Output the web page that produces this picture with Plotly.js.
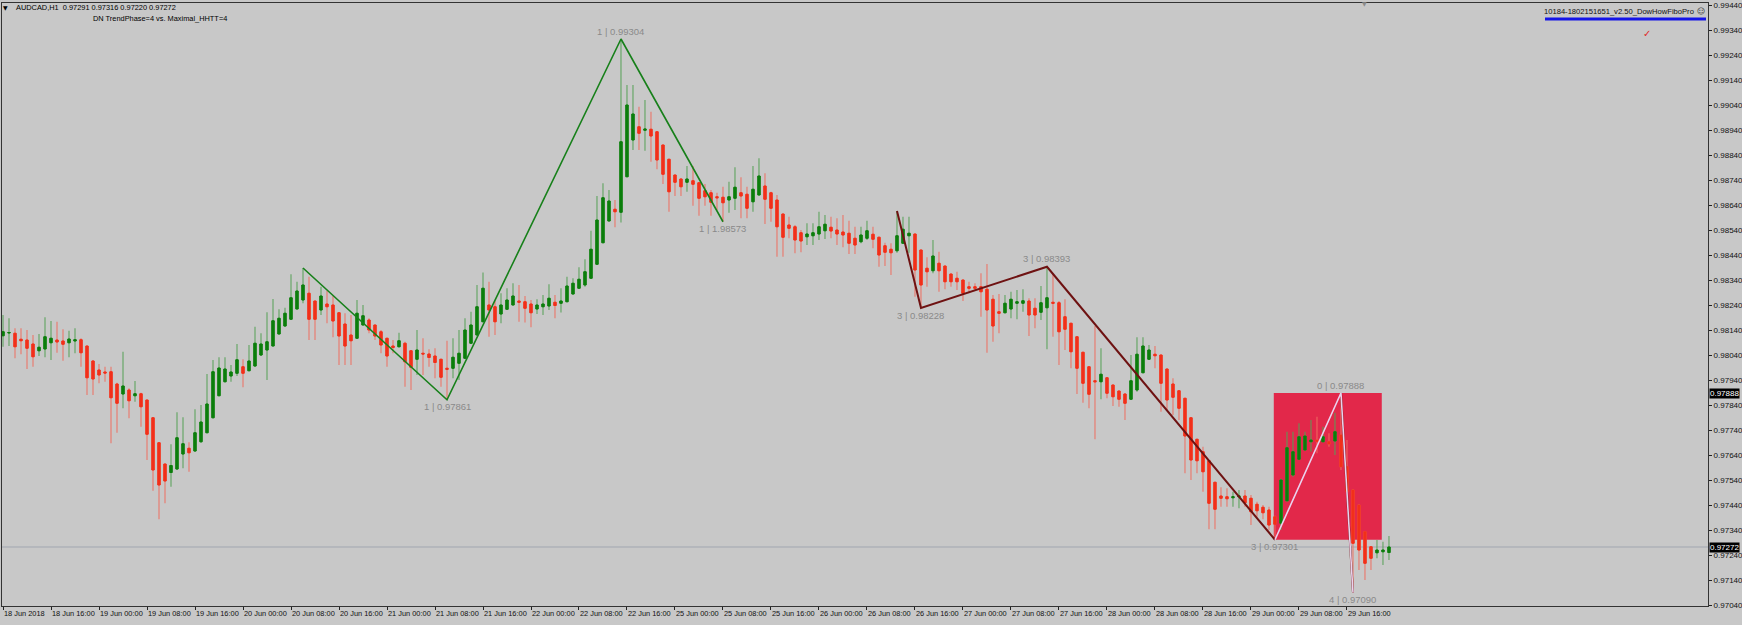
<!DOCTYPE html>
<html><head><meta charset="utf-8">
<script src="https://cdn.plot.ly/plotly-3.0.1.min.js"></script>
<style>html,body{margin:0;padding:0;background:#C8C8C8;}#chart{width:1742px;height:625px;}</style>
</head><body><div id="chart"></div>
<script>
// AUDCAD H1 candles, bar 0 = first visible bar (18 Jun 2018)
const openP = [
0.98117,0.98128,0.98127,0.98103,0.98100,0.98084,0.98057,0.98064,0.98089,0.98100,
0.98096,0.98089,0.98096,0.98101,0.98076,0.98016,0.97980,0.97972,0.97973,0.97924,
0.97884,0.97900,0.97877,0.97885,0.97860,0.97789,0.97689,0.97604,0.97570,0.97584,
0.97644,0.97667,0.97656,0.97693,0.97729,0.97789,0.97877,0.97933,0.97956,0.97967,
0.97993,0.97977,0.97996,0.98040,0.98060,0.98076,0.98124,0.98156,0.98183,0.98224,
0.98260,0.98287,0.98256,0.98220,0.98244,0.98240,0.98209,0.98164,0.98120,0.98107,
0.98160,0.98180,0.98160,0.98133,0.98107,0.98076,0.98073,0.98087,0.98057,0.98023,
0.98047,0.98044,0.98036,0.98023,0.97987,0.97987,0.98007,0.98027,0.98087,0.98120,
0.98173,0.98240,0.98233,0.98204,0.98223,0.98240,0.98256,0.98253,0.98244,0.98224,
0.98233,0.98236,0.98251,0.98247,0.98253,0.98284,0.98307,0.98320,0.98347,0.98403,
0.98489,0.98576,0.98623,0.98611,0.98753,0.98900,0.98953,0.98939,0.98943,0.98933,
0.98880,0.98823,0.98760,0.98744,0.98731,0.98737,0.98729,0.98697,0.98689,0.98673,
0.98671,0.98660,0.98667,0.98689,0.98683,0.98653,0.98680,0.98716,0.98689,0.98660,
0.98604,0.98560,0.98553,0.98529,0.98513,0.98517,0.98524,0.98537,0.98551,0.98540,
0.98532,0.98527,0.98507,0.98493,0.98507,0.98523,0.98511,0.98477,0.98463,0.98457,
0.98487,0.98517,0.98524,0.98460,0.98387,0.98377,0.98407,0.98396,0.98364,0.98347,
0.98340,0.98313,0.98313,0.98313,0.98303,0.98263,0.98213,0.98209,0.98224,0.98247,
0.98247,0.98256,0.98227,0.98211,0.98229,0.98251,0.98249,0.98193,0.98167,0.98113,
0.98051,0.97993,0.97937,0.97933,0.97949,0.97920,0.97896,0.97884,0.97863,0.97900,
0.97969,0.98023,0.98043,0.98040,0.97984,0.97924,0.97897,0.97867,0.97789,0.97703,
0.97653,0.97617,0.97531,0.97476,0.97473,0.97469,0.97473,0.97476,0.97467,0.97443,
0.97431,0.97420,0.97393,0.97367,0.97457,0.97560,0.97623,0.97660,0.97693,0.97700,
0.97693,0.97693,0.97696,0.97720,0.97593,0.97500,0.97440,0.97333,0.97273,0.97249,
0.97253,0.97250];
const highP = [
0.98200,0.98187,0.98147,0.98147,0.98140,0.98120,0.98124,0.98191,0.98176,0.98173,
0.98143,0.98137,0.98147,0.98107,0.98076,0.98020,0.98004,0.97993,0.97993,0.97929,
0.98053,0.97907,0.97936,0.97889,0.97860,0.97789,0.97689,0.97604,0.97683,0.97811,
0.97791,0.97691,0.97823,0.97840,0.97964,0.98020,0.98031,0.98031,0.98000,0.98084,
0.98023,0.98080,0.98153,0.98127,0.98211,0.98264,0.98223,0.98229,0.98363,0.98333,
0.98388,0.98353,0.98256,0.98313,0.98297,0.98276,0.98209,0.98207,0.98200,0.98260,
0.98240,0.98187,0.98160,0.98140,0.98107,0.98100,0.98129,0.98093,0.98057,0.98140,
0.98107,0.98063,0.98067,0.98023,0.98097,0.98107,0.98140,0.98187,0.98213,0.98320,
0.98370,0.98333,0.98256,0.98287,0.98307,0.98327,0.98320,0.98276,0.98260,0.98263,
0.98280,0.98323,0.98280,0.98307,0.98353,0.98347,0.98391,0.98423,0.98537,0.98676,
0.98727,0.98700,0.98660,0.99304,0.99120,0.99120,0.99033,0.99060,0.99013,0.98933,
0.98880,0.98823,0.98760,0.98747,0.98796,0.98796,0.98729,0.98724,0.98700,0.98689,
0.98713,0.98733,0.98791,0.98751,0.98713,0.98796,0.98827,0.98767,0.98693,0.98680,
0.98604,0.98593,0.98560,0.98540,0.98567,0.98567,0.98613,0.98600,0.98593,0.98587,
0.98600,0.98577,0.98553,0.98553,0.98577,0.98553,0.98513,0.98489,0.98487,0.98616,
0.98593,0.98593,0.98524,0.98460,0.98431,0.98500,0.98453,0.98396,0.98364,0.98373,
0.98340,0.98333,0.98327,0.98367,0.98404,0.98280,0.98284,0.98280,0.98293,0.98300,
0.98303,0.98267,0.98267,0.98316,0.98393,0.98367,0.98256,0.98263,0.98167,0.98113,
0.98051,0.97993,0.98156,0.98067,0.97949,0.97920,0.97896,0.97887,0.98040,0.98111,
0.98111,0.98080,0.98076,0.98040,0.97984,0.97947,0.97897,0.97867,0.97789,0.97703,
0.97673,0.97617,0.97531,0.97511,0.97507,0.97493,0.97500,0.97500,0.97480,0.97453,
0.97440,0.97433,0.97397,0.97545,0.97733,0.97733,0.97767,0.97733,0.97780,0.97793,
0.97753,0.97727,0.97809,0.97888,0.97700,0.97500,0.97440,0.97333,0.97273,0.97300,
0.97293,0.97316];
const lowP = [
0.98073,0.98076,0.98027,0.98043,0.97984,0.97993,0.98036,0.98031,0.98020,0.98049,
0.98017,0.98031,0.98047,0.97993,0.97880,0.97880,0.97927,0.97933,0.97687,0.97729,
0.97827,0.97787,0.97853,0.97753,0.97620,0.97497,0.97383,0.97447,0.97513,0.97580,
0.97587,0.97573,0.97653,0.97689,0.97729,0.97787,0.97877,0.97931,0.97933,0.97956,
0.97911,0.97977,0.97993,0.98036,0.97940,0.98076,0.98124,0.98153,0.98183,0.98224,
0.98247,0.98100,0.98100,0.98200,0.98167,0.98111,0.98000,0.98000,0.98000,0.98107,
0.98160,0.98127,0.98100,0.98047,0.97993,0.98047,0.98071,0.97913,0.97900,0.97960,
0.97960,0.97993,0.97947,0.97913,0.97861,0.97947,0.97940,0.98027,0.98087,0.98120,
0.98173,0.98113,0.98120,0.98167,0.98220,0.98240,0.98173,0.98170,0.98151,0.98204,
0.98200,0.98220,0.98187,0.98210,0.98253,0.98283,0.98307,0.98313,0.98347,0.98403,
0.98489,0.98576,0.98551,0.98570,0.98753,0.98860,0.98860,0.98857,0.98813,0.98783,
0.98724,0.98613,0.98676,0.98676,0.98693,0.98637,0.98597,0.98637,0.98597,0.98620,
0.98573,0.98609,0.98620,0.98587,0.98587,0.98613,0.98680,0.98564,0.98573,0.98433,
0.98433,0.98507,0.98447,0.98451,0.98480,0.98480,0.98500,0.98504,0.98507,0.98480,
0.98471,0.98444,0.98444,0.98487,0.98500,0.98467,0.98393,0.98396,0.98360,0.98449,
0.98487,0.98449,0.98273,0.98228,0.98313,0.98367,0.98293,0.98303,0.98313,0.98300,
0.98256,0.98287,0.98300,0.98193,0.98049,0.98093,0.98127,0.98207,0.98187,0.98183,
0.98213,0.98116,0.98147,0.98180,0.98063,0.98113,0.98000,0.98060,0.97987,0.97884,
0.97849,0.97827,0.97703,0.97863,0.97867,0.97836,0.97833,0.97780,0.97863,0.97893,
0.97969,0.98020,0.97987,0.97813,0.97820,0.97800,0.97780,0.97567,0.97540,0.97567,
0.97493,0.97343,0.97343,0.97433,0.97433,0.97433,0.97427,0.97433,0.97360,0.97393,
0.97383,0.97340,0.97301,0.97340,0.97453,0.97553,0.97620,0.97660,0.97653,0.97647,
0.97693,0.97673,0.97640,0.97580,0.97487,0.97090,0.97180,0.97140,0.97180,0.97227,
0.97200,0.97220];
const closeP = [
0.98133,0.98130,0.98073,0.98097,0.98067,0.98033,0.98071,0.98113,0.98107,0.98092,
0.98083,0.98104,0.98101,0.98049,0.97949,0.97944,0.97960,0.97968,0.97869,0.97847,
0.97916,0.97857,0.97885,0.97833,0.97723,0.97580,0.97520,0.97536,0.97598,0.97709,
0.97685,0.97649,0.97729,0.97772,0.97844,0.97973,0.97988,0.97984,0.97972,0.98021,
0.97967,0.98016,0.98087,0.98084,0.98093,0.98177,0.98187,0.98207,0.98269,0.98296,
0.98320,0.98183,0.98183,0.98276,0.98233,0.98176,0.98116,0.98076,0.98097,0.98207,
0.98197,0.98140,0.98116,0.98080,0.98036,0.98070,0.98097,0.98013,0.97991,0.98060,
0.98044,0.98030,0.98010,0.97951,0.97983,0.98031,0.98047,0.98140,0.98160,0.98233,
0.98307,0.98220,0.98173,0.98240,0.98260,0.98276,0.98251,0.98227,0.98209,0.98240,
0.98244,0.98267,0.98238,0.98256,0.98316,0.98327,0.98343,0.98373,0.98463,0.98580,
0.98669,0.98656,0.98613,0.98893,0.99040,0.99004,0.98927,0.98944,0.98916,0.98820,
0.98763,0.98693,0.98731,0.98713,0.98744,0.98723,0.98667,0.98673,0.98651,0.98669,
0.98649,0.98673,0.98711,0.98676,0.98627,0.98703,0.98756,0.98663,0.98627,0.98553,
0.98511,0.98547,0.98500,0.98496,0.98524,0.98529,0.98553,0.98563,0.98536,0.98524,
0.98520,0.98487,0.98480,0.98520,0.98537,0.98503,0.98440,0.98451,0.98449,0.98517,
0.98543,0.98527,0.98380,0.98320,0.98373,0.98436,0.98377,0.98333,0.98333,0.98333,
0.98287,0.98307,0.98307,0.98293,0.98220,0.98156,0.98207,0.98247,0.98263,0.98253,
0.98257,0.98200,0.98200,0.98249,0.98269,0.98247,0.98133,0.98143,0.98053,0.97987,
0.97927,0.97883,0.97933,0.97963,0.97887,0.97873,0.97863,0.97847,0.97937,0.98043,
0.98076,0.98060,0.98037,0.97927,0.97860,0.97871,0.97827,0.97716,0.97620,0.97617,
0.97573,0.97447,0.97423,0.97467,0.97465,0.97473,0.97476,0.97449,0.97413,0.97417,
0.97409,0.97360,0.97363,0.97540,0.97669,0.97653,0.97713,0.97716,0.97700,0.97695,
0.97713,0.97684,0.97733,0.97593,0.97493,0.97287,0.97260,0.97207,0.97227,0.97260,
0.97260,0.97272];

// time axis labels (every 8 bars)
const tickLabels = ['18 Jun 2018','18 Jun 16:00','19 Jun 00:00','19 Jun 08:00','19 Jun 16:00',
'20 Jun 00:00','20 Jun 08:00','20 Jun 16:00','21 Jun 00:00','21 Jun 08:00','21 Jun 16:00',
'22 Jun 00:00','22 Jun 08:00','22 Jun 16:00','25 Jun 00:00','25 Jun 08:00','25 Jun 16:00',
'26 Jun 00:00','26 Jun 08:00','26 Jun 16:00','27 Jun 00:00','27 Jun 08:00','27 Jun 16:00',
'28 Jun 00:00','28 Jun 08:00','28 Jun 16:00','29 Jun 00:00','29 Jun 08:00','29 Jun 16:00'];
const tickEvery = 8;

// zigzag pivots (bar index, price)
const greenPivotBar = [50, 74, 103, 120];
const greenPivotPrice = [0.98388, 0.97861, 0.99304, 0.98573];
const redPivotBar = [149, 153, 174, 212];
const redPivotPrice = [0.98616, 0.98228, 0.98393, 0.97301];
const pinkPivotBar = [212, 223, 225];
const pinkPivotPrice = [0.97301, 0.97888, 0.97090];

// pivot labels
const labelBar = [103, 74, 120, 153, 174, 212, 223, 225];
const labelPrice = [0.99304, 0.97861, 0.98573, 0.98228, 0.98393, 0.97301, 0.97888, 0.97090];
const labelText = ['1 | 0.99304','1 | 0.97861','1 | 1.98573','3 | 0.98228','3 | 0.98393','3 | 0.97301','0 | 0.97888','4 | 0.97090'];
const labelAbove = [true, false, false, false, true, false, true, false];

// fibo zone rectangle
const zoneBars = [211.8, 229.8];
const zonePrices = [0.97301, 0.97888];
const bidPrice = 0.97272;
const tagPrices = [0.97888, 0.97272];

const xIdx = openP.map((_, i) => i);
const bodyTop = openP.map((o, i) => Math.max(o, closeP[i]));
const bodyBot = openP.map((o, i) => Math.min(o, closeP[i]));

const traces = [
  // wicks (full high-low range, light colour)
  {type:'candlestick', x:xIdx, open:openP, high:highP, low:lowP, close:closeP,
   increasing:{line:{color:'#55A055', width:1}, fillcolor:'#0C7E0C'},
   decreasing:{line:{color:'#EE6E60', width:1}, fillcolor:'#F2301A'},
   whiskerwidth:0, hoverinfo:'skip', showlegend:false},
  // solid bodies drawn on top
  {type:'candlestick', x:xIdx, open:openP, high:bodyTop, low:bodyBot, close:closeP,
   increasing:{line:{color:'#0C7E0C', width:1}, fillcolor:'#0C7E0C'},
   decreasing:{line:{color:'#F2301A', width:1}, fillcolor:'#F2301A'},
   whiskerwidth:0, hoverinfo:'skip', showlegend:false},
  {type:'scatter', mode:'lines', x:greenPivotBar, y:greenPivotPrice,
   line:{color:'#17801A', width:1.6}, hoverinfo:'skip', showlegend:false},
  {type:'scatter', mode:'lines', x:redPivotBar, y:redPivotPrice,
   line:{color:'#6E1212', width:2}, hoverinfo:'skip', showlegend:false},
  {type:'scatter', mode:'lines', x:pinkPivotBar.slice(1), y:pinkPivotPrice.slice(1),
   line:{color:'#6E1212', width:2}, hoverinfo:'skip', showlegend:false},
  {type:'scatter', mode:'lines', x:pinkPivotBar, y:pinkPivotPrice,
   line:{color:'#EAD2EE', width:1.6}, hoverinfo:'skip', showlegend:false}
];

const annotations = [];
labelBar.forEach((b, k) => {
  annotations.push({x:b, y:labelPrice[k], xref:'x', yref:'y', text:labelText[k], showarrow:false,
    xanchor:'center', yanchor:'middle', yshift: labelAbove[k] ? 8 : -7,
    font:{family:'Liberation Sans, Arial, sans-serif', size:9.5, color:'#8A8A8A'}});
});
tagPrices.forEach(p => {
  annotations.push({x:1, xref:'paper', y:p, yref:'y', xanchor:'left', yanchor:'middle', xshift:1,
    text:p.toFixed(5), showarrow:false, bgcolor:'#000000', borderpad:0,
    font:{family:'Liberation Sans, Arial, sans-serif', size:8, color:'#FFFFFF'}});
});
// paper helpers: plot area spans px 2..1708, py 3..606
const PX = px => (px - 2) / 1706;
const PY = py => (606 - py) / 603;
const hdrFont = {family:'Liberation Sans, Arial, sans-serif', size:7.4, color:'#000'};
annotations.push(
  {x:PX(5), y:PY(8), xref:'paper', yref:'paper', text:'▼', showarrow:false, xanchor:'center', yanchor:'middle', font:{family:'DejaVu Sans', size:6, color:'#000'}},
  {x:PX(14), y:PY(8), xref:'paper', yref:'paper', text:'AUDCAD,H1  0.97291 0.97316 0.97220 0.97272', showarrow:false, xanchor:'left', yanchor:'middle', font:hdrFont},
  {x:PX(91), y:PY(19), xref:'paper', yref:'paper', text:'DN TrendPhase=4 vs. Maximal_HHTT=4', showarrow:false, xanchor:'left', yanchor:'middle', font:hdrFont},
  {x:PX(1696), y:PY(11), xref:'paper', yref:'paper', text:'10184-1802151651_v2.50_DowHowFiboPro', showarrow:false, xanchor:'right', yanchor:'middle', font:{family:'Liberation Sans, Arial, sans-serif', size:7.6, color:'#111'}},
  {x:PX(1701), y:PY(11), xref:'paper', yref:'paper', text:'☺', showarrow:false, xanchor:'center', yanchor:'middle', font:{family:'DejaVu Sans', size:8, color:'#333'}},
  {x:PX(1647), y:PY(33), xref:'paper', yref:'paper', text:'✓', showarrow:false, xanchor:'center', yanchor:'middle', font:{family:'DejaVu Sans', size:10, color:'#E02828'}},
  {x:PX(1364), y:PY(4), xref:'paper', yref:'paper', text:'▼', showarrow:false, xanchor:'center', yanchor:'middle', font:{family:'DejaVu Sans', size:6, color:'#8A8A8A'}}
);

const shapes = [
  {type:'rect', xref:'x', yref:'y', x0:zoneBars[0], x1:zoneBars[1], y0:zonePrices[0], y1:zonePrices[1],
   fillcolor:'#E2284A', line:{width:0}, layer:'below'},
  {type:'line', xref:'paper', yref:'y', x0:0, x1:1, y0:bidPrice, y1:bidPrice,
   line:{color:'#A1A6B0', width:1}, layer:'below'},
  {type:'rect', xref:'paper', yref:'paper', x0:PX(1545), x1:PX(1706), y0:PY(20.5), y1:PY(17.5),
   fillcolor:'#1414E8', line:{width:0}}
];

const tickVals = tickLabels.map((_, k) => k * tickEvery);

const layout = {
  width:1742, height:625,
  margin:{l:2, r:34, t:3, b:19, pad:0},
  paper_bgcolor:'#C8C8C8', plot_bgcolor:'#C8C8C8',
  showlegend:false, boxgap:0.45, boxmode:'overlay',
  xaxis:{range:[-0.167, 284.17], tickmode:'array', tickvals:tickVals, ticktext:tickLabels, tickangle:0,
    ticks:'outside', ticklen:3, tickcolor:'#222', ticklabelposition:'outside right',
    tickfont:{family:'Liberation Sans, Arial, sans-serif', size:7.4, color:'#111'},
    showgrid:false, zeroline:false, showline:true, linecolor:'#333', linewidth:1, mirror:true,
    rangeslider:{visible:false}, fixedrange:true, automargin:false},
  yaxis:{side:'right', range:[0.97036, 0.99448], tick0:0.9704, dtick:0.001, tickformat:'.5f',
    ticks:'outside', ticklen:3, tickcolor:'#222',
    tickfont:{family:'Liberation Sans, Arial, sans-serif', size:8, color:'#111'},
    showgrid:false, zeroline:false, showline:true, linecolor:'#333', linewidth:1, mirror:true,
    fixedrange:true, automargin:false},
  annotations, shapes
};

Plotly.newPlot('chart', traces, layout, {displayModeBar:false, staticPlot:true});
</script>
</body></html>
